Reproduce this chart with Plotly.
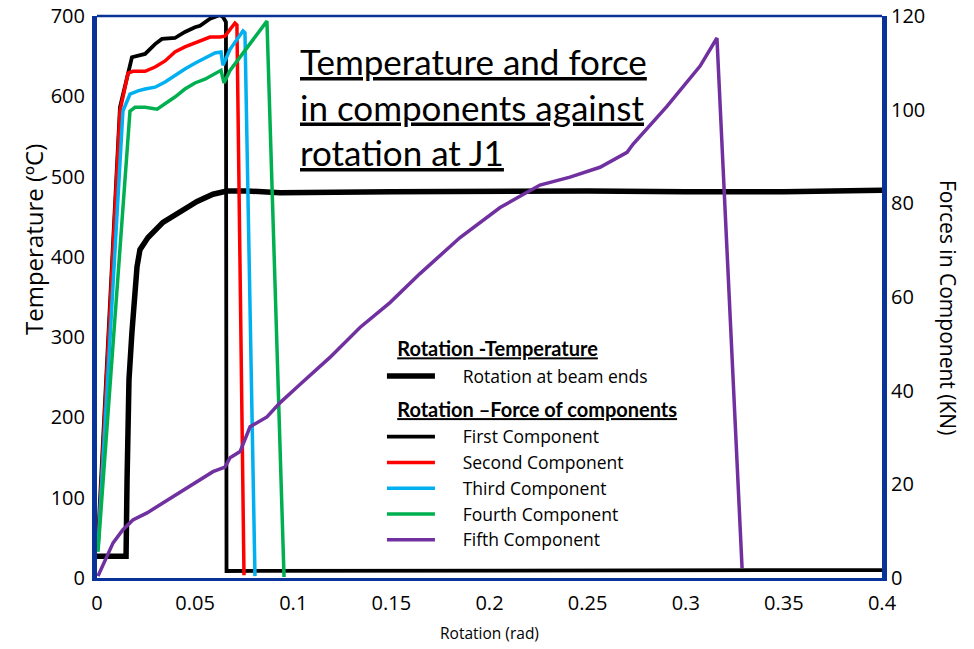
import plotly.graph_objects as go

# ---------------- data ----------------
# Rotation - Temperature (left axis, °C)
beam_rot = [0.0, 0.0148, 0.0153, 0.0163, 0.0178, 0.0204, 0.0219, 0.0260, 0.0336,
            0.0423, 0.0510, 0.0591, 0.0662, 0.0764, 0.0932, 0.15, 0.2, 0.25,
            0.3, 0.35, 0.4]
beam_temp = [27, 27, 120, 247, 306, 388, 409, 424, 443,
             457, 469, 478, 482, 482, 480, 481, 482, 482,
             481, 481, 483]

# Rotation - Force of components (right axis, kN)
first_rot = [0.0005, 0.0117, 0.0178, 0.0204, 0.0245, 0.0296, 0.0331, 0.0397,
             0.0448, 0.0499, 0.0525, 0.0576, 0.0627, 0.0642, 0.0657, 0.0660, 0.4]
first_force = [8.1, 100.5, 111.2, 111.4, 111.9, 114.0, 115.1, 115.3,
               116.6, 117.6, 117.9, 119.4, 120.2, 119.8, 118.7, 1.5, 1.7]

second_rot = [0.0005, 0.0117, 0.0158, 0.0183, 0.0245, 0.0296, 0.0347, 0.0397,
              0.0448, 0.0499, 0.0576, 0.0627, 0.0652, 0.0703, 0.0713, 0.0749]
second_force = [6.4, 99.7, 107.8, 108.2, 108.2, 109.1, 110.4, 112.3,
                113.4, 114.2, 115.5, 115.5, 115.7, 118.5, 118.1, 0.6]

third_rot = [0.0005, 0.0132, 0.0168, 0.0209, 0.0245, 0.0296, 0.0347, 0.0397,
             0.0448, 0.0499, 0.0550, 0.0601, 0.0632, 0.0642, 0.0678, 0.0744,
             0.0754, 0.0805]
third_force = [6.0, 99.7, 103.3, 104.0, 104.4, 104.8, 105.9, 107.4,
               108.7, 109.9, 111.0, 112.1, 112.3, 109.5, 112.9, 116.8,
               116.4, 0.4]

fourth_rot = [0.0005, 0.0168, 0.0194, 0.0245, 0.0306, 0.0347, 0.0397, 0.0448,
              0.0499, 0.0550, 0.0601, 0.0632, 0.0647, 0.0678, 0.0866, 0.0953]
fourth_force = [5.6, 99.7, 100.5, 100.5, 100.1, 101.2, 102.7, 104.4,
                105.7, 106.5, 107.6, 108.4, 105.7, 108.4, 118.9, 0.2]

fifth_rot = [0.0005, 0.0082, 0.0132, 0.0183, 0.0255, 0.0336, 0.0423, 0.0510,
             0.0591, 0.0652, 0.0678, 0.0729, 0.0780, 0.0866, 0.0932, 0.1034,
             0.1187, 0.1340, 0.1493, 0.1646, 0.1850, 0.2054, 0.2257, 0.2410,
             0.2563, 0.2701, 0.2731, 0.2904, 0.3073, 0.3159, 0.3287]
fifth_force = [0.4, 7.5, 10.3, 12.4, 13.9, 16.0, 18.4, 20.5,
               22.7, 23.7, 25.7, 27.0, 32.3, 34.4, 37.4, 41.3,
               47.1, 53.5, 58.8, 65.0, 72.7, 79.1, 83.9, 85.6,
               87.7, 90.9, 92.6, 100.7, 109.3, 115.3, 2.1]

temp_ticks = [0, 100, 200, 300, 400, 500, 600, 700]
force_ticks = [0, 20, 40, 60, 80, 100, 120]
rot_ticks = [0, 0.05, 0.1, 0.15, 0.2, 0.25, 0.3, 0.35, 0.4]

# ---------------- styling ----------------
FONT = "Open Sans"
TFONT = "Lato"
AXIS_BLUE = "#0A3399"
NB = "\u00a0"
GT_FONT = dict(size=20, color="black", family=TFONT)

fig = go.Figure()

fig.add_trace(go.Scatter(
    x=beam_rot, y=beam_temp, mode="lines", yaxis="y",
    name=NB * 5 + "Rotation at beam ends",
    line=dict(color="black", width=5.5),
    legendgroup="g1",
    legendgrouptitle=dict(text=NB * 2 + "<b><u>Rotation -Temperature</u></b>",
                          font=GT_FONT),
))

comp = [
    ("First Component", first_rot, first_force, "black", 3.8),
    ("Second Component", second_rot, second_force, "#FF0000", 3.5),
    ("Third Component", third_rot, third_force, "#00B0F0", 3.5),
    ("Fourth Component", fourth_rot, fourth_force, "#00B050", 3.5),
    ("Fifth Component", fifth_rot, fifth_force, "#7030A0", 3.5),
]
for i, (nm, xs, ys, col, w) in enumerate(comp):
    kw = {}
    if i == 0:
        kw["legendgrouptitle"] = dict(
            text=NB * 2 + "<b><u>Rotation \u2013Force of components</u></b>",
            font=GT_FONT)
    fig.add_trace(go.Scatter(
        x=xs, y=ys, mode="lines", yaxis="y2",
        name=NB * 5 + nm, line=dict(color=col, width=w),
        legendgroup="g2", **kw))

fig.update_layout(
    width=974, height=649,
    margin=dict(l=97, r=92, t=16, b=71),
    paper_bgcolor="white", plot_bgcolor="white",
    font=dict(family=FONT, size=18, color="black"),
    xaxis=dict(
        range=[0, 0.4], tickvals=rot_ticks, automargin=False,
        showgrid=False, zeroline=False, ticks="",
        showline=True, linecolor=AXIS_BLUE, linewidth=3,
        tickfont=dict(size=20), ticklabelstandoff=5,
        title=dict(text="Rotation (rad)", font=dict(size=15.5), standoff=14),
    ),
    yaxis=dict(
        range=[0, 700], tickvals=temp_ticks, automargin=False,
        showgrid=False, zeroline=False, ticks="",
        showline=True, linecolor=AXIS_BLUE, linewidth=5,
        tickfont=dict(size=20), ticklabelstandoff=3,
    ),
    yaxis2=dict(
        range=[0, 120], tickvals=force_ticks, overlaying="y", side="right",
        automargin=False,
        showgrid=False, zeroline=False, ticks="",
        showline=True, linecolor=AXIS_BLUE, linewidth=5,
        tickfont=dict(size=20), ticklabelstandoff=0,
    ),
    legend=dict(
        x=0.363, y=0.443, xanchor="left", yanchor="top",
        bgcolor="rgba(0,0,0,0)", font=dict(size=17.5, family=FONT),
        itemwidth=48, tracegroupgap=6, traceorder="grouped",
    ),
    showlegend=True,
    shapes=[dict(type="line", xref="paper", yref="paper", x0=0, x1=1, y0=1, y1=1,
                 line=dict(color=AXIS_BLUE, width=2.5))],
    annotations=[
        dict(text="<u>Temperature and force</u><br><u>in components against</u><br><u>rotation at J1</u>",
             xref="paper", yref="paper", x=(298 - 97) / 785, y=(578 - 38) / 562,
             xanchor="left", yanchor="top", align="left", showarrow=False,
             font=dict(size=35, family=TFONT, color="black")),
        dict(text="Temperature (ºC)", xref="paper", yref="paper",
             x=(33 - 97) / 785, y=(578 - 240) / 562, xanchor="center", yanchor="middle",
             textangle=-90, showarrow=False, font=dict(size=24, family=FONT)),
        dict(text="Forces in Component (KN)", xref="paper", yref="paper",
             x=(948 - 97) / 785, y=(578 - 307) / 562, xanchor="center", yanchor="middle",
             textangle=90, showarrow=False, font=dict(size=21, family=FONT)),
    ],
)

fig.write_html("out.html")
